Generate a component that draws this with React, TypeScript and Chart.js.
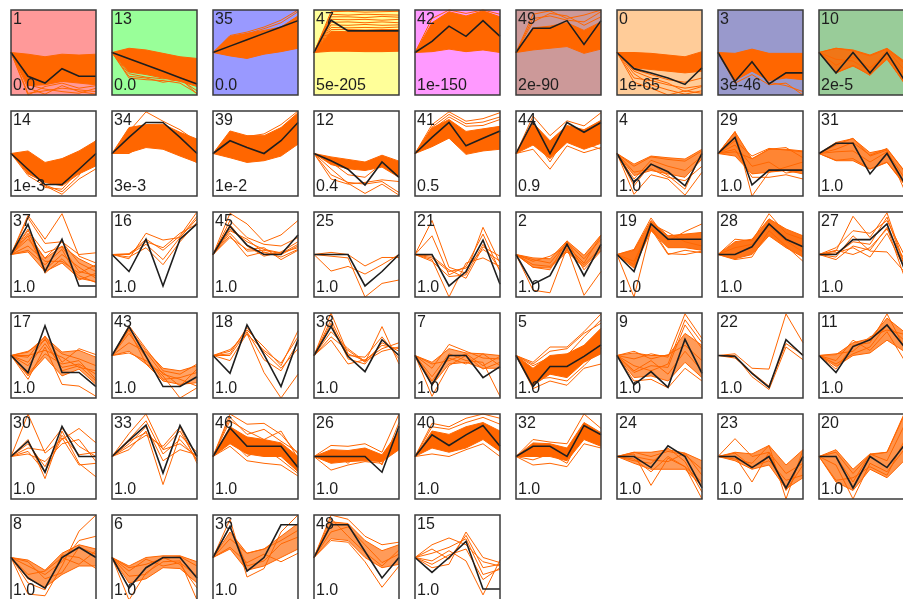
import React, { useEffect, useRef } from "react";
import { Chart, registerables } from "chart.js";

Chart.register(...registerables);

// Six sampling times; every profile is anchored at 0 at the first time point.
const timePoints = [0, 1, 2, 3, 4, 5];

// Profile ids, in the order the panels are laid out (9 per row).
const clusterIds = [
  1, 13, 35, 47, 42, 49, 0, 3, 10,
  14, 34, 39, 12, 41, 44, 4, 29, 31,
  37, 16, 45, 25, 21, 2, 19, 28, 27,
  17, 43, 18, 38, 7, 5, 9, 22, 11,
  30, 33, 46, 26, 40, 32, 24, 23, 20,
  8, 6, 36, 48, 15,
];

// p-value for each profile.
const pValues = [
  "0.0", "0.0", "0.0", "5e-205", "1e-150", "2e-90", "1e-65", "3e-46", "2e-5",
  "1e-3", "3e-3", "1e-2", "0.4", "0.5", "0.9", "1.0", "1.0", "1.0",
  "1.0", "1.0", "1.0", "1.0", "1.0", "1.0", "1.0", "1.0", "1.0",
  "1.0", "1.0", "1.0", "1.0", "1.0", "1.0", "1.0", "1.0", "1.0",
  "1.0", "1.0", "1.0", "1.0", "1.0", "1.0", "1.0", "1.0", "1.0",
  "1.0", "1.0", "1.0", "1.0", "1.0",
];

// Significant profiles are shaded by cluster.
const clusterColors: (string | null)[] = [
  "#FF9999", "#99FF99", "#9999FF", "#FFFF99", "#FF99FF", "#CC9999", "#FFCC99", "#9999CC", "#99CC99",
];

// Model profiles (values after the anchored start).
const modelProfiles: number[][] = [
  [-2.8, -3.6, -1.9, -2.8, -2.8],
  [-0.74, -1.48, -2.22, -2.96, -3.7],
  [0.75, 1.5, 2.25, 3.0, 3.75],
  [3.8, 2.55, 2.55, 2.55, 2.55],
  [1.3, 3.1, 1.9, 3.75, 1.9],
  [2.85, 2.85, 3.75, 0.95, 3.75],
  [-1.9, -2.4, -3.0, -3.75, -1.8],
  [-3.4, -1.1, -3.7, -2.4, -2.4],
  [-2.4, 0, -2.4, 0, -3.2],

  [-1.85, -3.65, -3.65, -1.85, 0],
  [1.9, 3.65, 3.65, 1.9, 0],
  [1.5, 0.7, 0, 1.5, 3.65],
  [-0.85, -1.85, -3.7, -1.0, -2.8],
  [1.9, 3.65, 0.9, 1.8, 2.65],
  [3.85, 0, 3.65, 2.5, 3.65],
  [-3.4, -1.25, -2.15, -3.8, 0],
  [1.9, -3.7, -1.95, -1.95, -1.95],
  [1.2, 1.2, -2.4, 0, -3.4],

  [3.55, -2.0, 1.8, -3.7, -3.7],
  [-2.0, 1.8, -3.7, 1.8, 3.6],
  [3.3, 1.1, 0, 0, 2.3],
  [0, 0, -3.7, -2.0, 0],
  [0, -3.7, -2.0, 1.7, -3.5],
  [-3.5, -2.5, 1.2, -2.5, 1.2],
  [-2.0, 3.6, 1.8, 1.8, 1.8],
  [0, 0.9, 3.6, 1.8, 0.9],
  [0, 1.75, 1.75, 3.6, -1.6],

  [-2.0, 3.5, -2.0, -2.0, -3.65],
  [3.4, -0.1, -3.65, -3.65, -2.5],
  [-2.1, 3.6, 0.1, -3.65, 1.85],
  [3.4, -0.1, -1.9, 1.85, 0],
  [-3.45, 0, 0, -2.6, -1.3],
  [-3.65, -1.3, -1.3, -0.1, 1.25],
  [-3.45, -1.9, -3.75, 1.9, -2.1],
  [-0.1, -2.1, -3.75, 1.85, 0],
  [-2.0, 1.05, 1.85, 3.6, 1.05],

  [1.8, -1.85, 3.55, 0, 0],
  [1.9, 3.7, -1.95, 3.65, 0],
  [3.35, 1.2, 1.2, 1.2, -1.3],
  [0, 0, 0, -1.85, 3.55],
  [2.55, 1.3, 2.55, 3.65, 1.2],
  [1.2, 1.2, 0, 3.65, 2.55],
  [0, -1.3, 1.25, 0, -3.7],
  [0, -1.3, 0, -3.7, 0],
  [0, -3.7, 0, -1.3, 1.3],

  [-2.4, -3.6, 0, 1.2, 0],
  [-3.6, -1.2, 0, 0, -2.4],
  [3.65, -1.6, 0, 3.85, 3.85],
  [3.85, 3.85, 0.7, -2.4, 0],
  [-1.75, 0, 1.9, -3.7, -3.7],
];

// Upper and lower edges of the dense mass of gene profiles (null: none).
const bandUpper: (number[] | null)[] = [
  [-0.2, -0.5, -0.2, -0.3, -0.2],
  [0.5, 0.3, -0.1, -0.5, -0.7],
  [1.9, 2.25, 2.6, 3.0, 4.3],
  [2.5, 2.45, 2.45, 2.45, 2.45],
  [3.5, 4.8, 4.3, 4.9, 4.2],
  [2.9, 3.1, 3.5, 2.6, 3.6],
  [0, -0.1, -0.3, -0.5, 0.1],
  [-0.1, 0.4, -0.1, -0.1, -0.1],
  [0.5, 0.3, -0.3, 0.5, -1.0],

  [0.3, -1.05, -0.6, 0.3, 1.5],
  [3.05, 3.4, 3.45, 2.5, 1.7],
  [2.65, 2.1, 2.1, 3.05, 4.8],
  [-0.4, -0.7, -1.0, -0.2, -0.9],
  [3.0, 4.0, 2.6, 2.9, 3.2],
  [3.6, 1.5, 3.3, 2.8, 3.9],
  [-1.25, -0.3, -0.5, -0.65, 0.5],
  [2.55, -0.65, 0.5, 0.5, 0.3],
  [1.3, 1.75, 0.1, 0.5, -2.0],

  [2.5, -0.5, 1.0, -0.5, -1.5],
  null,
  null,
  null,
  null,
  [-0.4, -0.5, 1.6, -0.1, 2.3],
  [0.5, 4.0, 2.2, 2.4, 2.6],
  [1.5, 1.8, 4.2, 3.0, 2.2],
  null,

  [0.4, 2.2, 0.4, 0.6, -0.2],
  [3.2, 0.6, -1.5, -1.8, -1.2],
  null,
  null,
  [-0.8, 0.8, 0.3, 0.2, 0],
  [-1.5, 0.0, 0.2, 1.2, 3.2],
  [0.3, 0.0, 0.0, 2.6, 1.2],
  null,
  [0.1, 1.5, 2.0, 4.4, 2.8],

  null,
  null,
  [3.5, 2.3, 2.0, 1.6, 0.0],
  [0.8, 0.7, 1.0, 0.2, 3.0],
  [3.0, 2.6, 3.5, 4.0, 3.0],
  [1.6, 1.5, 1.0, 4.0, 2.8],
  [0.5, 0.5, 0.8, 0.4, -0.5],
  [0.5, 0.3, 1.3, -1.0, 0.8],
  [0.8, -1.5, 0.3, 0.5, 5.0],

  [-0.3, -1.5, 0.5, 1.5, 1.0],
  [-1.0, 0.0, 0.2, 0.2, -0.5],
  [3.0, 0.5, 1.0, 2.5, 4.0],
  [4.2, 4.0, 2.0, 0.8, 1.5],
  null,
];

const bandLower: (number[] | null)[] = [
  [-3.9, -3.8, -3.4, -3.6, -3.8],
  [-2.3, -2.6, -3.0, -3.4, -4.0],
  [-0.4, -0.7, -0.2, 0.1, 0.5],
  [0.15, 0.15, 0.1, 0.1, 0.15],
  [0.1, 0.4, 0.1, 0.3, 0.0],
  [0.3, 0.5, 0.7, -0.1, 0.4],
  [-1.8, -2.0, -2.2, -2.4, -2.2],
  [-3.3, -2.2, -3.3, -3.0, -3.2],
  [-2.4, -1.6, -2.6, -0.8, -3.5],

  [-2.4, -3.4, -3.8, -2.4, -1.45],
  [0.1, 0.7, 0.5, -0.3, -1.05],
  [-0.5, -1.05, -0.85, -0.3, 1.1],
  [-1.3, -1.8, -2.0, -1.6, -2.8],
  [0.8, 1.8, -0.1, 0.3, 0.5],
  [1.0, -0.6, 1.3, 0.5, 1.2],
  [-2.6, -2.0, -2.4, -2.8, -0.65],
  [-0.3, -2.4, -2.2, -2.0, -2.4],
  [-0.85, -0.85, -1.85, -1.05, -3.6],

  [0.3, -2.0, -1.0, -2.8, -3.2],
  null,
  null,
  null,
  null,
  [-1.5, -1.6, 0.3, -1.5, 0.5],
  [-1.6, 2.8, 0.8, 0.8, 0.5],
  [-0.5, 0.0, 2.2, 0.8, -0.3],
  null,

  [-2.4, -0.2, -2.4, -1.6, -3.4],
  [0.5, -1.0, -3.0, -3.4, -3.2],
  null,
  null,
  [-3.5, -1.0, -0.8, -1.5, -1.5],
  [-3.5, -2.2, -2.6, -0.8, 0.2],
  [-2.6, -2.4, -3.0, -0.8, -2.6],
  null,
  [-1.3, 0.0, 0.3, 1.8, 0.5],

  null,
  null,
  [1.5, 0.3, 0.0, 0.0, -1.8],
  [-0.8, -0.6, -0.5, -0.6, 0.8],
  [1.0, 0.5, 1.0, 2.0, 0.6],
  [0.0, 0.0, -0.5, 2.0, 1.2],
  [-0.8, -1.5, -1.5, -1.5, -3.5],
  [-0.5, -1.5, -1.0, -3.8, -2.5],
  [-3.0, -4.0, -1.5, -2.5, -0.5],

  [-2.5, -3.5, -2.0, -1.0, -1.0],
  [-3.0, -2.5, -1.2, -1.3, -3.0],
  [1.0, -1.5, -1.0, 0.0, 1.0],
  [2.2, 2.0, 0.0, -1.2, -0.8],
  null,
];

// How solid the mass of genes looks in each panel.
const bandOpacity = [
  1, 1, 1, 1, 1, 1, 1, 1, 0.85,
  1, 1, 1, 1, 1, 1, 0.7, 0.8, 0.75,
  0.6, 0, 0, 0, 0, 0.7, 0.9, 0.9, 0,
  0.6, 0.6, 0, 0, 0.6, 1, 0.65, 0, 0.7,
  0, 0, 1, 1, 1, 1, 0.65, 0.7, 0.7,
  0.65, 0.65, 0.65, 0.65, 0,
];

// Individual gene profiles drawn as separate lines.
const geneProfiles: number[][][] = [
  [[-4.8, -4.5, -4.2, -4.4, -4.6], [-4.2, -4.9, -3.9, -4.6, -4.9], [-3.8, -4.3, -4.6, -4.8, -4.2], [-5.0, -4.0, -3.6, -4.2, -3.9]],
  [[-3.0, -3.2, -3.3, -3.6, -4.8], [-2.8, -3.0, -3.5, -3.2, -4.5], [-2.5, -2.9, -3.1, -3.0, -4.9]],
  [[2.0, 2.4, 3.0, 3.8, 5.0], [1.6, 2.2, 2.8, 3.5, 4.8]],
  [[4.8, 4.85, 4.75, 4.8, 4.85], [4.5, 4.4, 4.5, 4.45, 4.4], [4.2, 4.2, 4.1, 4.25, 4.15], [3.9, 3.85, 3.9, 3.8, 3.9],
    [3.55, 3.6, 3.5, 3.6, 3.5], [3.25, 3.2, 3.3, 3.2, 3.25], [2.95, 2.9, 2.95, 2.9, 3.0], [2.7, 2.7, 2.65, 2.7, 2.7]],
  [[4.0, 5.0, 4.6, 5.0, 4.5]],
  [[4.5, 4.9, 4.0, 4.4, 5.0], [4.0, 4.3, 3.8, 3.6, 4.8], [3.6, 4.6, 4.3, 3.2, 4.2]],
  [[-3.0, -3.3, -3.8, -4.2, -3.9], [-2.5, -3.8, -4.4, -4.9, -4.5], [-3.5, -4.2, -5.0, -4.5, -4.8], [-2.2, -3.0, -3.6, -4.6, -4.0], [-2.0, -2.6, -3.2, -3.5, -3.0]],
  [[-3.6, -2.6, -3.8, -3.6, -5.0], [-3.0, -1.8, -3.5, -3.9, -4.6]],
  [[0.5, 0.2, -0.4, 0.4, -1.2], [-2.4, -1.5, -2.7, -0.6, -3.6], [-1.5, -0.5, -1.8, -0.2, -2.5], [-0.8, -1.0, -2.2, 0.3, -2.0]],

  [[-2.6, -3.8, -4.8, -3.0, -1.8], [-1.0, -4.0, -4.2, -2.0, -0.5], [-2.0, -3.7, -4.5, -2.6, 1.6]],
  [[2.6, 4.9, 3.8, 2.8, 1.4], [0.0, 1.2, 0.8, 0.2, -1.1]],
  [[2.4, 2.0, 2.3, 3.4, 5.0]],
  [[-2.5, -3.4, -3.6, -3.3, -4.6], [-1.8, -3.5, -4.7, -3.6, -4.9], [-3.0, -3.6, -3.4, -3.1, -3.3], [-1.0, -2.5, -2.8, -1.2, -2.0]],
  [[3.4, 4.9, 3.8, 4.1, 4.8], [3.1, 4.6, 3.5, 3.7, 4.3], [2.8, 4.3, 3.2, 3.3, 4.0]],
  [[4.4, 2.1, 3.85, 3.25, 4.8], [0.5, -1.85, 0.9, 0.1, 0.7], [2.0, -1.0, 2.2, 1.2, 0.5]],
  [[-4.8, -2.5, -3.0, -4.9, -2.2], [-3.8, -1.2, -2.6, -4.2, 0.2], [-1.5, -0.4, -0.7, -0.9, 0.3], [-2.2, -1.8, -2.8, -3.2, -1.5], [-3.0, -0.8, -1.5, -2.0, -0.3]],
  [[2.6, -5.0, -2.2, -1.6, -1.0], [0.5, -2.8, -2.8, -2.5, -3.0], [1.5, -0.3, 0.6, 0.4, 0.2], [1.0, -1.5, -1.0, -2.3, -2.0], [0.2, -0.6, 0.5, 0.7, -0.5]],
  [[1.0, 1.8, -0.3, 0.4, -4.2], [0.5, 1.3, -0.2, 0.6, -2.0], [-0.8, -0.6, -1.8, -1.0, -3.5], [0.2, 0.3, -1.0, 0.2, -2.8]],

  [[4.6, 1.8, 4.8, -0.2, -1.0], [4.3, 1.3, 1.5, 0.0, 0.2], [3.0, -2.2, -0.5, -2.5, -3.3], [1.8, -0.4, 1.5, -1.0, -2.0],
    [0.5, -1.2, 0.6, -3.0, -2.2], [2.2, -1.8, 0.0, -1.5, -2.8], [1.0, -0.8, -0.8, -2.2, -1.2], [2.8, 0.2, 0.9, -2.0, -2.5]],
  [[0, 1.8, 0.5, 2.2, 5.0], [-0.5, 2.5, 1.7, 2.0, 4.5], [0, 1.2, -0.6, 2.0, 4.2], [-0.3, 0.8, -1.2, 1.5, 3.8], [0.1, 1.5, 0.8, 2.5, 3.6]],
  [[4.85, 3.6, 1.5, 2.3, 4.0], [2.5, 0.4, 0.5, 0.1, 1.2], [3.0, 1.5, 0.6, 0.2, 0.8], [2.2, -0.2, 0.3, -0.3, 0.6],
    [3.5, 1.0, -0.2, 0.3, 1.5], [2.0, 0.6, 0.8, -0.6, 0.5], [2.8, 1.8, 0.2, 0.0, 1.0], [4.0, 2.0, 1.2, 1.0, 2.0]],
  [[0.25, 0, -1.35, -0.35, -0.35], [-1.95, -1.4, -2.3, -1.2, 0.0], [-0.2, -0.4, -5.0, -3.4, -3.0]],
  [[4.0, -1.5, -2.2, 3.2, -1.0], [2.2, -2.4, -1.4, 2.4, -2.0], [-0.4, -2.0, -1.6, 0.6, -0.8], [-0.8, -2.6, -2.4, 1.2, -1.8],
    [-0.2, -1.8, -2.8, 0.9, -0.2], [-0.6, -5.0, -1.0, -0.4, -1.4]],
  [[-4.2, -4.5, 0.8, -4.8, -2.0], [-0.6, -1.0, 1.4, -0.5, 1.8], [-1.2, -1.4, 0.5, -1.2, 0.8], [-0.8, -0.2, 1.0, -1.0, 2.2], [-1.5, -1.8, 1.6, -1.8, 0.4]],
  [[-5.0, 3.0, 0.0, 0.5, 0.2], [0.6, 4.3, 1.6, 2.7, 3.6], [-0.8, 3.3, 0.1, 0.0, 0.4], [-1.2, 3.6, 2.6, 1.5, 1.0]],
  [[1.8, 1.6, 4.8, 2.5, 1.8], [-0.6, -0.3, 2.8, 1.0, -0.8], [0.8, 1.2, 3.3, 1.6, 0.3]],
  [[0.4, 4.5, 2.0, 4.9, -1.0], [-0.6, 1.0, 0.5, 3.2, -2.5], [0.8, 2.8, 2.5, 4.0, 0.0], [0.2, 0.8, -0.3, 2.5, -1.5],
    [0.0, 1.5, 1.2, 4.4, -1.2], [-0.3, 2.2, 0.4, 0.3, -2.0], [0.5, 0.0, 0.8, 3.0, -0.5]],

  [[-2.8, 1.0, -3.4, -3.6, -4.8], [-0.2, 2.3, -0.8, 0.8, 0.1], [0.5, 1.8, 0.2, -0.4, -1.2], [-1.2, 1.4, -1.4, -1.0, -2.2],
    [-2.2, 0.2, -1.0, -0.6, -2.8], [0.0, 0.6, -0.2, -1.4, -1.8], [-0.8, 2.0, -1.8, -1.2, -3.0]],
  [[3.5, 0.8, -1.8, -2.2, -1.0], [0.3, -0.6, -2.4, -5.0, -3.8], [2.6, -0.2, -2.8, -2.6, -2.0], [1.5, 0.4, -2.2, -2.8, -3.6], [3.0, -1.0, -2.0, -3.6, -1.6]],
  [[0.5, 3.0, 1.0, -1.2, 2.9], [0.2, 3.3, 0.4, -1.5, 0.8], [-0.6, 2.6, -2.0, -5.0, -2.2], [0.0, 2.8, -0.5, -1.8, 1.5], [0.7, 2.5, 0.6, -0.9, 2.2]],
  [[5.0, 0.2, -0.6, 1.2, 0.8], [2.2, 0.6, -0.8, 3.4, -1.0], [1.8, -1.0, -0.5, 0.8, 1.5], [3.8, -0.4, -1.0, 1.5, 0.5], [2.8, 0.8, -0.7, 0.5, 1.0], [4.2, 0.0, -0.2, 2.2, -0.4]],
  [[-4.8, -1.2, 0.0, -1.6, -0.8], [-1.5, 1.3, 0.5, -0.3, -0.4], [-2.5, 0.2, -0.6, -0.8, -4.8], [-1.0, -0.6, 0.2, -1.2, -0.1], [-3.0, -0.3, -1.0, 0.2, -1.2]],
  [[-3.9, -3.0, -3.5, -1.5, -1.0], [-0.8, 1.0, 1.0, 2.8, 4.9], [-1.2, -0.2, 0.0, 2.2, 4.2], [-2.8, -2.6, -3.0, -1.2, 0.8], [-1.0, 0.5, 0.8, 2.6, 3.8]],
  [[-0.4, 0.2, -0.2, 4.9, 2.0], [-2.0, -1.2, -1.4, 3.6, 0.8], [-3.0, -2.8, -3.8, -1.5, -3.0], [0.5, -0.4, 0.1, 1.2, -0.6], [-1.2, -1.8, -1.0, 4.2, 1.5], [-1.8, -0.6, -2.2, 0.5, -1.8]],
  [[0.2, -1.5, -1.6, 4.9, 1.5], [0.0, -2.5, -4.0, 1.0, -0.5], [-0.3, -2.0, -3.6, 1.4, 0.1]],
  [[-1.6, 1.2, 1.5, 4.9, 1.0], [0.2, 0.5, 2.2, 3.0, 2.5], [-0.6, 1.8, 0.6, 2.8, -0.5], [-1.0, 0.2, 1.0, 3.6, 1.8]],

  [[5.0, 0.4, 2.0, 3.3, 1.6], [2.0, -2.6, 3.0, -0.8, -2.4], [1.5, -1.2, 2.5, 0.2, 0.5], [0.3, -0.6, 1.5, 2.0, -0.6], [1.0, 0.7, 3.3, 1.2, 0.0], [0.6, -1.8, 2.2, -1.0, -0.8]],
  [[2.7, 5.0, 0.8, 1.5, 0.0], [1.2, 2.5, 1.2, 3.5, -0.8], [0.8, 3.0, -3.3, 2.5, 0.5], [2.0, 4.2, 0.3, 2.0, -0.3], [1.5, 3.5, -0.5, 0.8, 0.2], [1.8, 2.8, 0.9, 3.0, -0.5]],
  [[5.0, 3.8, 3.9, 2.6, 0.3], [4.2, 3.0, 2.0, 3.0, -0.2], [1.2, -0.5, -0.8, -1.0, -2.3], [2.0, 0.0, 1.0, -0.4, -2.0], [4.6, 2.6, 3.2, 1.8, 0.5]],
  [[-1.6, -1.0, -0.6, -0.8, 2.2], [1.3, 1.2, 1.5, 0.5, 5.0], [0.5, -0.8, 0.9, -1.0, 4.0]],
  [[3.9, 3.5, 4.5, 5.0, 4.5], [0.3, 0.0, 0.8, 1.5, 0.0], [3.5, 3.2, 4.0, 4.6, 3.8]],
  [[2.0, 1.7, 1.5, 5.0, 3.3], [-1.0, -0.8, -1.2, 1.5, 1.0], [-0.4, 0.3, -0.8, 3.0, 1.8]],
  [[0.3, -3.4, -0.2, -1.2, -5.0], [-0.5, -0.8, 1.0, -0.6, -4.2], [0.5, 0.0, 0.6, 0.2, -1.5], [-0.3, -1.8, 0.0, -1.2, -3.0], [0.0, -0.4, -0.6, 0.4, -2.2]],
  [[2.1, 0.0, 0.5, -2.0, -0.8], [0.0, -3.0, 0.5, -4.0, -1.0], [-0.3, -0.8, 1.3, -5.0, 0.8], [0.4, -1.2, -0.5, -2.8, -2.2]],
  [[0.5, -2.0, 0.2, 0.5, 4.8], [-1.0, -5.0, -0.8, -1.8, 0.8], [-2.8, -2.5, -1.2, -2.2, 1.8], [0.0, -3.0, 0.3, -0.5, 3.6]],

  [[-4.3, -4.5, -1.0, 3.1, 5.0], [-1.0, -2.0, -0.5, 2.0, 2.5], [-3.0, -3.8, 0.3, 0.0, -1.3], [-0.5, -2.5, -1.8, 1.2, 0.4], [-2.0, -1.6, 0.0, -0.8, 0.8]],
  [[-5.0, -1.8, -0.5, -0.4, -5.0], [-1.2, -0.8, -0.1, 0.1, -1.0], [-2.2, -2.0, 0.0, -0.8, -3.6], [-1.6, -0.2, -1.0, -0.6, -2.2]],
  [[4.5, -2.3, -1.3, 3.0, 5.0], [1.2, -0.6, 0.4, -0.5, 0.5], [2.2, 0.5, 1.0, 2.0, 3.2], [3.6, -1.0, -0.4, 1.6, 2.4]],
  [[5.0, 4.5, 2.5, 1.5, 1.8], [2.0, 1.8, -0.5, -3.5, -1.0], [3.0, 3.6, 1.5, -0.6, 0.4], [4.6, 2.5, 0.6, -1.0, 0.9]],
  [[1.5, 2.3, 1.5, -0.5, -1.0], [-1.2, -0.8, 3.0, 0.0, -0.6], [0.5, 1.2, 2.2, -2.0, -1.4], [-0.4, 0.8, -0.4, -4.4, -0.3], [1.0, -0.2, 2.6, -1.2, -0.8], [-0.8, 0.3, 1.0, -2.6, -1.2]],
];

const ORANGE = "#FF6600";
const MODEL = "#1E1E1E";
const BOX = 85; // plot box side
const STEP = 101; // distance between neighbouring boxes
const PAD = 8; // room around the box on each canvas
const PER_ROW = 9;
const FONT = '16px "Liberation Sans", Arial, sans-serif';

const withStart = (v: number[]) => [0, ...v];

function ProfilePanel({ index }: { index: number }) {
  const ref = useRef<HTMLCanvasElement>(null);

  useEffect(() => {
    const canvas = ref.current;
    if (!canvas) return;

    // Lower `order` is painted later (on top): band, then genes, then the model.
    const datasets: any[] = [];
    const up = bandUpper[index];
    const lo = bandLower[index];
    if (up && lo) {
      datasets.push({
        data: withStart(up),
        borderColor: ORANGE,
        borderWidth: 1,
        backgroundColor: `rgba(255,102,0,${bandOpacity[index]})`,
        fill: "+1",
        clip: false,
        order: 3,
      });
      datasets.push({ data: withStart(lo), borderColor: ORANGE, borderWidth: 1, fill: false, clip: false, order: 3 });
    }
    for (const g of geneProfiles[index]) {
      datasets.push({ data: withStart(g), borderColor: ORANGE, borderWidth: 1, fill: false, clip: false, order: 2 });
    }
    datasets.push({
      data: withStart(modelProfiles[index]),
      borderColor: MODEL,
      borderWidth: 1.6,
      fill: false,
      clip: false,
      order: 0,
    });

    const frame = {
      id: "panelFrame",
      beforeDraw(chart: any) {
        const { ctx, chartArea: a } = chart;
        const bg = clusterColors[index];
        if (bg) {
          ctx.save();
          ctx.fillStyle = bg;
          ctx.fillRect(a.left, a.top, a.right - a.left, a.bottom - a.top);
          ctx.restore();
        }
      },
      afterDraw(chart: any) {
        const { ctx, chartArea: a } = chart;
        ctx.save();
        ctx.strokeStyle = "#3A3A3A";
        ctx.lineWidth = 1.5;
        ctx.strokeRect(a.left, a.top, a.right - a.left, a.bottom - a.top);
        ctx.fillStyle = "#1E1E1E";
        ctx.font = FONT;
        ctx.textAlign = "left";
        ctx.textBaseline = "top";
        ctx.fillText(String(clusterIds[index]), a.left + 2, a.top + 2);
        ctx.textBaseline = "alphabetic";
        ctx.fillText(pValues[index], a.left + 2, a.bottom - 5);
        ctx.restore();
      },
    };

    const chart = new Chart(canvas, {
      type: "line",
      data: { labels: timePoints, datasets },
      options: {
        animation: false,
        responsive: false,
        devicePixelRatio: 1,
        layout: { padding: PAD },
        elements: { point: { radius: 0 }, line: { tension: 0 } },
        plugins: { legend: { display: false }, tooltip: { enabled: false }, title: { display: false } },
        events: [],
        scales: {
          x: { display: false, offset: false },
          y: { display: false, min: -5, max: 5 },
        },
      },
      plugins: [frame],
    } as any);

    return () => chart.destroy();
  }, [index]);

  const col = index % PER_ROW;
  const row = Math.floor(index / PER_ROW);
  const size = BOX + 2 * PAD;
  return (
    <canvas
      ref={ref}
      width={size}
      height={size}
      style={{
        position: "absolute",
        left: 11 + STEP * col - PAD,
        top: 10 + STEP * row - PAD,
        width: size,
        height: size,
      }}
    />
  );
}

export default function App() {
  return (
    <div
      style={{
        position: "fixed",
        left: 0,
        top: 0,
        width: 903,
        height: 599,
        overflow: "hidden",
        background: "#FFFFFF",
      }}
    >
      {clusterIds.map((_, i) => (
        <ProfilePanel key={i} index={i} />
      ))}
    </div>
  );
}
